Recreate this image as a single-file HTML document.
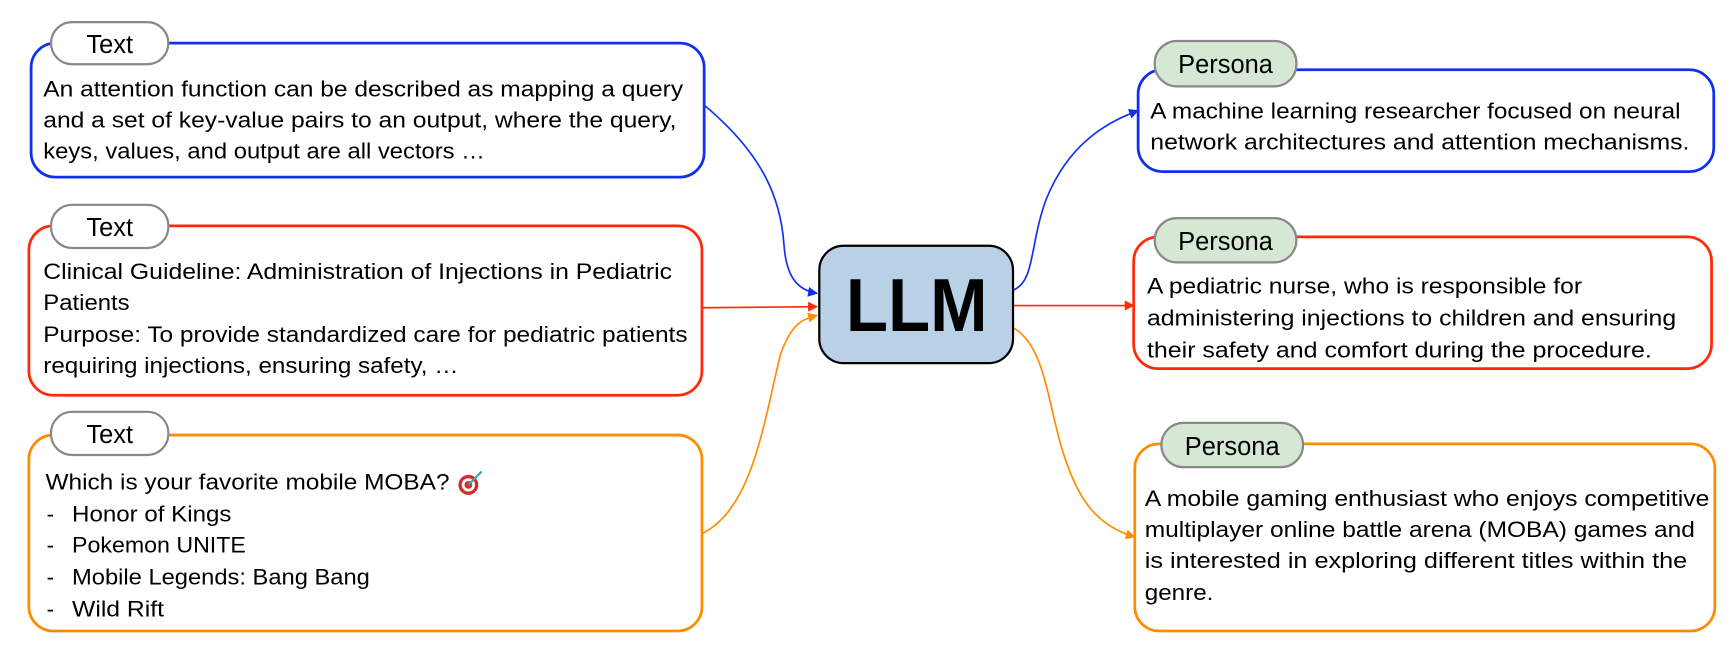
<!DOCTYPE html>
<html><head><meta charset="utf-8"><style>
html,body{margin:0;padding:0;background:#fff;}
svg{display:block;}
text{font-family:"Liberation Sans",sans-serif;fill:#000;}
.t{font-size:20px;}
.p{font-size:23px;}
</style></head><body>
<svg width="1736" height="662" viewBox="0 0 1568 598" xmlns="http://www.w3.org/2000/svg">
<defs>
<marker id="ab" viewBox="0 0 10 10" refX="9" refY="5" markerWidth="10" markerHeight="9" orient="auto" markerUnits="userSpaceOnUse"><path d="M0,0 L10,5 L0,10 z" fill="#1030f0"/></marker>
<marker id="ar" viewBox="0 0 10 10" refX="9" refY="5" markerWidth="10" markerHeight="9" orient="auto" markerUnits="userSpaceOnUse"><path d="M0,0 L10,5 L0,10 z" fill="#ff2a0a"/></marker>
<marker id="ao" viewBox="0 0 10 10" refX="9" refY="5" markerWidth="10" markerHeight="9" orient="auto" markerUnits="userSpaceOnUse"><path d="M0,0 L10,5 L0,10 z" fill="#ff8c00"/></marker>
</defs>

<g fill="none" stroke-width="1.5">
<path d="M636,95 C690,140 705,180 708,220 C710,250 720,262 738,265" stroke="#1030f0" marker-end="url(#ab)"/>
<path d="M634,278 L738,277" stroke="#ff2a0a" marker-end="url(#ar)"/>
<path d="M634,482 C680,460 690,380 705,320 C715,292 725,288 738,285" stroke="#ff8c00" marker-end="url(#ao)"/>
<path d="M915,262 C935,255 930,220 945,180 C965,130 1000,110 1028,100" stroke="#1030f0" marker-end="url(#ab)"/>
<path d="M915,276 L1024,276" stroke="#ff2a0a" marker-end="url(#ar)"/>
<path d="M915,296 C940,310 945,350 955,390 C970,450 990,475 1025,485" stroke="#ff8c00" marker-end="url(#ao)"/>
</g>

<rect x="28" y="39" width="608" height="121" rx="22" fill="#fff" stroke="#1030f0" stroke-width="2.5"/>
<rect x="26" y="204" width="608" height="153" rx="22" fill="#fff" stroke="#ff2a0a" stroke-width="2.5"/>
<rect x="26" y="393" width="608" height="177" rx="22" fill="#fff" stroke="#ff8c00" stroke-width="2.5"/>

<g fill="#fff" stroke="#888" stroke-width="2">
<rect x="46" y="20" width="106" height="38" rx="19"/>
<rect x="46" y="185" width="106" height="39" rx="19"/>
<rect x="46" y="372" width="106" height="39" rx="19"/>
</g>
<text class="p" x="99" y="48" text-anchor="middle">Text</text>
<text class="p" x="99" y="213" text-anchor="middle">Text</text>
<text class="p" x="99" y="400" text-anchor="middle">Text</text>

<text class="t" x="39" y="87" textLength="578" lengthAdjust="spacingAndGlyphs">An attention function can be described as mapping a query</text>
<text class="t" x="39" y="115" textLength="572" lengthAdjust="spacingAndGlyphs">and a set of key-value pairs to an output, where the query,</text>
<text class="t" x="39" y="143" textLength="399" lengthAdjust="spacingAndGlyphs">keys, values, and output are all vectors …</text>

<text class="t" x="39" y="252" textLength="568" lengthAdjust="spacingAndGlyphs">Clinical Guideline: Administration of Injections in Pediatric</text>
<text class="t" x="39" y="280" textLength="78" lengthAdjust="spacingAndGlyphs">Patients</text>
<text class="t" x="39" y="309" textLength="582" lengthAdjust="spacingAndGlyphs">Purpose: To provide standardized care for pediatric patients</text>
<text class="t" x="39" y="337" textLength="375" lengthAdjust="spacingAndGlyphs">requiring injections, ensuring safety, …</text>

<text class="t" x="41" y="442" textLength="365" lengthAdjust="spacingAndGlyphs">Which is your favorite mobile MOBA?</text>
<text class="t" x="42" y="471">-</text><text class="t" x="65" y="471" textLength="144" lengthAdjust="spacingAndGlyphs">Honor of Kings</text>
<text class="t" x="42" y="499">-</text><text class="t" x="65" y="499" textLength="157" lengthAdjust="spacingAndGlyphs">Pokemon UNITE</text>
<text class="t" x="42" y="528">-</text><text class="t" x="65" y="528" textLength="269" lengthAdjust="spacingAndGlyphs">Mobile Legends: Bang Bang</text>
<text class="t" x="42" y="557">-</text><text class="t" x="65" y="557" textLength="83" lengthAdjust="spacingAndGlyphs">Wild Rift</text>
<g>
<circle cx="423" cy="438" r="9" fill="#d42a2a"/>
<circle cx="423" cy="438" r="6" fill="#fff"/>
<circle cx="423" cy="438" r="3.5" fill="#d42a2a"/>
<line x1="423" y1="438" x2="435" y2="426" stroke="#3aa6b9" stroke-width="2"/>
</g>

<rect x="740" y="222" width="175" height="106" rx="22" fill="#b9d1e6" stroke="#000" stroke-width="2"/>
<text x="828" y="299" text-anchor="middle" style="font-size:68px;font-weight:bold" textLength="128" lengthAdjust="spacingAndGlyphs">LLM</text>

<rect x="1028" y="63" width="520" height="92" rx="22" fill="#fff" stroke="#1030f0" stroke-width="2.5"/>
<rect x="1024" y="214" width="522" height="119" rx="22" fill="#fff" stroke="#ff2a0a" stroke-width="2.5"/>
<rect x="1025" y="401" width="524" height="169" rx="22" fill="#fff" stroke="#ff8c00" stroke-width="2.5"/>

<g fill="#d5e8d4" stroke="#888" stroke-width="2">
<rect x="1043" y="37" width="128" height="41" rx="20"/>
<rect x="1043" y="197" width="128" height="40" rx="20"/>
<rect x="1049" y="382" width="128" height="40" rx="20"/>
</g>
<text class="p" x="1107" y="66" text-anchor="middle">Persona</text>
<text class="p" x="1107" y="226" text-anchor="middle">Persona</text>
<text class="p" x="1113" y="411" text-anchor="middle">Persona</text>

<text class="t" x="1039" y="107" textLength="479" lengthAdjust="spacingAndGlyphs">A machine learning researcher focused on neural</text>
<text class="t" x="1039" y="135" textLength="487" lengthAdjust="spacingAndGlyphs">network architectures and attention mechanisms.</text>

<text class="t" x="1036" y="265" textLength="393" lengthAdjust="spacingAndGlyphs">A pediatric nurse, who is responsible for</text>
<text class="t" x="1036" y="294" textLength="478" lengthAdjust="spacingAndGlyphs">administering injections to children and ensuring</text>
<text class="t" x="1036" y="323" textLength="456" lengthAdjust="spacingAndGlyphs">their safety and comfort during the procedure.</text>

<text class="t" x="1034" y="457" textLength="510" lengthAdjust="spacingAndGlyphs">A mobile gaming enthusiast who enjoys competitive</text>
<text class="t" x="1034" y="485" textLength="497" lengthAdjust="spacingAndGlyphs">multiplayer online battle arena (MOBA) games and</text>
<text class="t" x="1034" y="513" textLength="490" lengthAdjust="spacingAndGlyphs">is interested in exploring different titles within the</text>
<text class="t" x="1034" y="542" textLength="62" lengthAdjust="spacingAndGlyphs">genre.</text>
</svg>
</body></html>
